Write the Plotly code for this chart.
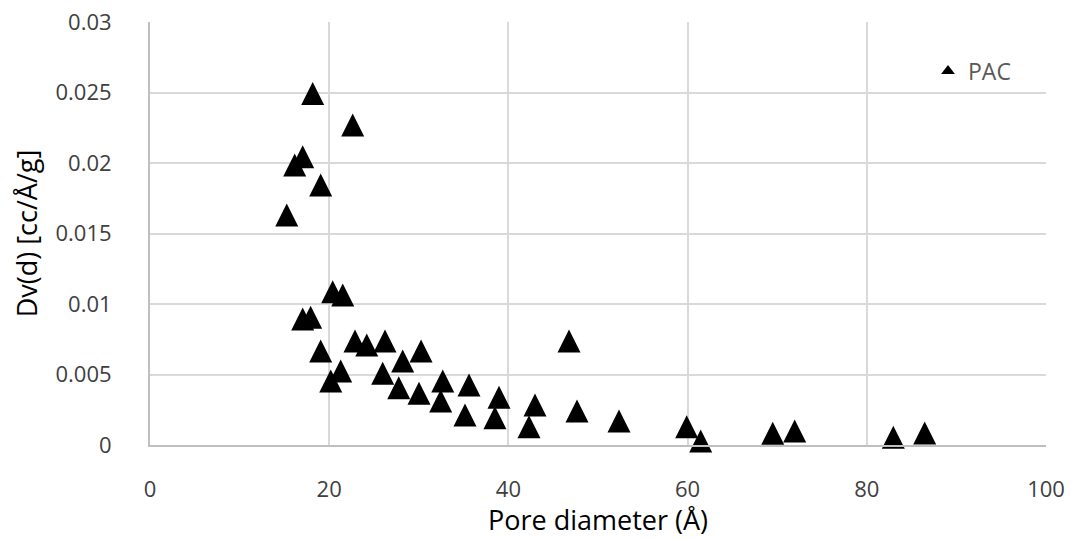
import plotly.graph_objects as go

# Pore diameter (Å) and Dv(d) values for PAC
pore_diameter = [15.26, 16.15, 17.04, 18.16, 19.05, 22.62, 17.04, 17.93, 19.05, 20.17,
                 21.28, 20.39, 21.51, 22.88, 24.19, 26.23, 25.97, 27.76, 28.20, 30.25,
                 30.02, 32.67, 32.44, 35.60, 35.16, 38.95, 38.50, 42.97, 42.30, 46.76,
                 47.66, 52.34, 59.90, 61.46, 69.50, 71.95, 82.96, 86.46]
dv = [0.01631, 0.01986, 0.02045, 0.02493, 0.01844, 0.02270, 0.00894, 0.00906, 0.00667, 0.00454,
      0.00525, 0.01087, 0.01064, 0.00738, 0.00709, 0.00738, 0.00509, 0.00406, 0.00596, 0.00667,
      0.00367, 0.00454, 0.00312, 0.00426, 0.00213, 0.00338, 0.00194, 0.00284, 0.00130, 0.00738,
      0.00241, 0.00170, 0.00130, 0.00028, 0.00083, 0.00099, 0.00055, 0.00085]

series_name = "PAC"
x_ticks = [0, 20, 40, 60, 80, 100]
y_ticks = [0, 0.005, 0.01, 0.015, 0.02, 0.025, 0.03]
y_tick_labels = ["0", "0.005", "0.01", "0.015", "0.02", "0.025", "0.03"]

FONT = "Open Sans"
MS = 23

fig = go.Figure()
fig.add_trace(go.Scatter(
    x=pore_diameter, y=dv, mode="markers", name=series_name, showlegend=False,
    cliponaxis=False,
    marker=dict(symbol="arrow-down", angle=180, standoff=MS / 2, size=MS,
                color="black", line=dict(width=0)),
))
# legend entry (small marker as in the reference)
fig.add_trace(go.Scatter(
    x=[None], y=[None], mode="markers", name=series_name, showlegend=True,
    marker=dict(symbol="triangle-up", size=12, color="black", line=dict(width=0)),
))

fig.update_layout(
    width=1076, height=538,
    margin=dict(l=150, r=30, t=22, b=93, pad=0),
    paper_bgcolor="white", plot_bgcolor="white",
    font=dict(family=FONT, color="#404040", size=22),
    showlegend=True,
    legend=dict(x=(928 - 150) / 896, xanchor="left", y=(445 - 71) / 423, yanchor="middle",
                bgcolor="rgba(0,0,0,0)", font=dict(family=FONT, size=23, color="#595959"),
                borderwidth=0),
    xaxis=dict(
        range=[0, 100], tickvals=x_ticks, ticktext=[str(v) for v in x_ticks],
        showgrid=True, gridcolor="#d9d9d9", gridwidth=1.5,
        showline=True, linecolor="#bfbfbf", linewidth=2, zeroline=False,
        ticks="", ticklabelstandoff=24,
        tickfont=dict(family=FONT, size=22, color="#404040"),
        title=dict(text="Pore diameter (Å)", font=dict(family=FONT, size=27, color="black"),
                   standoff=8),
        automargin=False, fixedrange=True,
    ),
    yaxis=dict(
        range=[0, 0.03], tickvals=y_ticks, ticktext=y_tick_labels,
        showgrid=True, gridcolor="#d9d9d9", gridwidth=1.5,
        showline=True, linecolor="#bfbfbf", linewidth=2, zeroline=False,
        ticks="", ticklabelstandoff=32,
        tickfont=dict(family=FONT, size=22, color="#404040"),
        title=dict(text="Dv(d) [cc/Å/g]", font=dict(family=FONT, size=27, color="black"),
                   standoff=10),
        automargin=False, fixedrange=True,
    ),
)

fig.write_html("out.html")
